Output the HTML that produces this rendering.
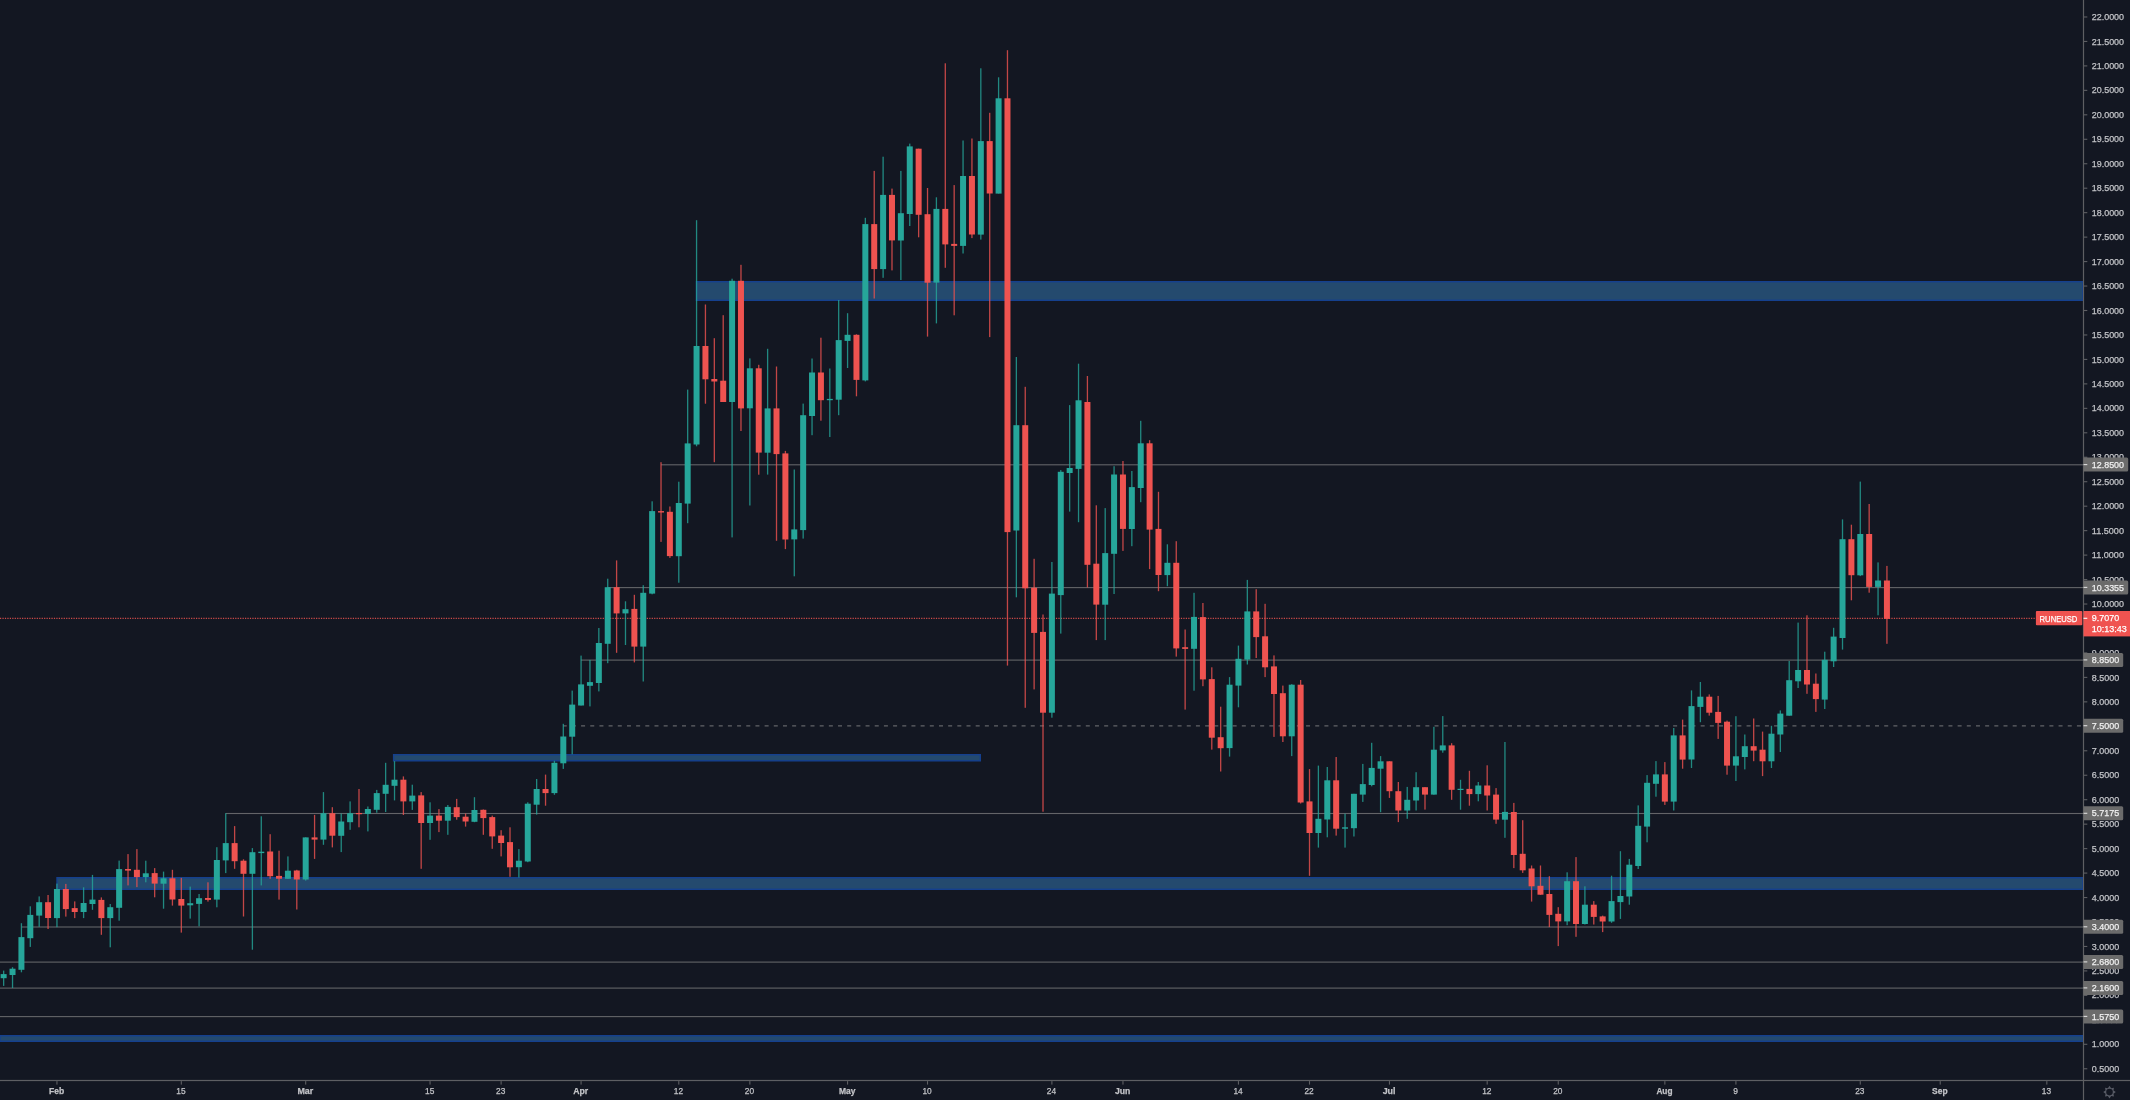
<!DOCTYPE html><html><head><meta charset="utf-8"><style>html,body{margin:0;padding:0;background:#131722;overflow:hidden}svg{display:block;will-change:transform}text{font-family:"Liberation Sans",sans-serif}</style></head><body>
<svg width="2130" height="1100" viewBox="0 0 2130 1100">
<rect x="0" y="0" width="2130" height="1100" fill="#131722"/>
<rect x="661.0" y="464.25" width="1422.5" height="1.1" fill="#636468"/>
<rect x="607.6" y="587.05" width="1475.9" height="1.1" fill="#636468"/>
<rect x="580.9" y="659.55" width="1502.6" height="1.1" fill="#636468"/>
<rect x="225.7" y="812.95" width="1857.8" height="1.1" fill="#636468"/>
<rect x="21.5" y="926.45" width="2062.0" height="1.1" fill="#636468"/>
<rect x="0.0" y="961.55" width="2083.5" height="1.1" fill="#636468"/>
<rect x="0.0" y="987.55" width="2083.5" height="1.1" fill="#636468"/>
<rect x="0.0" y="1016.05" width="2083.5" height="1.1" fill="#636468"/>
<line x1="563.2" y1="725.9" x2="2083.5" y2="725.9" stroke="#636468" stroke-width="1.1" stroke-dasharray="4 5.177" stroke-dashoffset="0.48"/>
<rect x="696.5" y="281.7" width="1386.3" height="18.6" fill="#244a6e" stroke="#15408e" stroke-width="1.4"/>
<rect x="393.6" y="754.7" width="586.7" height="6.1" fill="#244a6e" stroke="#15408e" stroke-width="1.4"/>
<rect x="57.0" y="877.7" width="2025.8" height="11.6" fill="#244a6e" stroke="#15408e" stroke-width="1.4"/>
<rect x="0.0" y="1035.7" width="2082.8" height="5.6" fill="#244a6e" stroke="#15408e" stroke-width="1.4"/>
<line x1="0" y1="618.3" x2="2036" y2="618.3" stroke="#ef5350" stroke-opacity="0.85" stroke-width="1.2" stroke-dasharray="1.2 1.25"/>
<rect x="3.00" y="970.6" width="1.3" height="15.3" fill="#26a69a" fill-opacity="0.8"/>
<rect x="0.65" y="974.1" width="6" height="4.1" fill="#26a69a"/>
<rect x="11.88" y="967.2" width="1.3" height="20.8" fill="#26a69a" fill-opacity="0.8"/>
<rect x="9.53" y="968.7" width="6" height="6.3" fill="#26a69a"/>
<rect x="20.77" y="923.2" width="1.3" height="49.1" fill="#26a69a" fill-opacity="0.8"/>
<rect x="18.42" y="937.1" width="6" height="32.7" fill="#26a69a"/>
<rect x="29.65" y="906.3" width="1.3" height="40.6" fill="#26a69a" fill-opacity="0.8"/>
<rect x="27.30" y="914.9" width="6" height="23.3" fill="#26a69a"/>
<rect x="38.53" y="896.4" width="1.3" height="30.4" fill="#26a69a" fill-opacity="0.8"/>
<rect x="36.18" y="902.2" width="6" height="13.4" fill="#26a69a"/>
<rect x="47.42" y="895.0" width="1.3" height="34.0" fill="#ef5350" fill-opacity="0.8"/>
<rect x="45.07" y="902.2" width="6" height="15.8" fill="#ef5350"/>
<rect x="56.30" y="883.6" width="1.3" height="43.6" fill="#26a69a" fill-opacity="0.8"/>
<rect x="53.95" y="889.0" width="6" height="29.1" fill="#26a69a"/>
<rect x="65.18" y="883.9" width="1.3" height="32.7" fill="#ef5350" fill-opacity="0.8"/>
<rect x="62.83" y="889.0" width="6" height="20.1" fill="#ef5350"/>
<rect x="74.07" y="901.4" width="1.3" height="16.7" fill="#ef5350" fill-opacity="0.8"/>
<rect x="71.72" y="908.1" width="6" height="3.9" fill="#ef5350"/>
<rect x="82.95" y="887.3" width="1.3" height="30.8" fill="#26a69a" fill-opacity="0.8"/>
<rect x="80.60" y="903.0" width="6" height="9.0" fill="#26a69a"/>
<rect x="91.83" y="874.9" width="1.3" height="34.9" fill="#26a69a" fill-opacity="0.8"/>
<rect x="89.48" y="899.6" width="6" height="4.4" fill="#26a69a"/>
<rect x="100.72" y="897.4" width="1.3" height="37.4" fill="#ef5350" fill-opacity="0.8"/>
<rect x="98.37" y="899.9" width="6" height="18.2" fill="#ef5350"/>
<rect x="109.60" y="904.0" width="1.3" height="43.3" fill="#26a69a" fill-opacity="0.8"/>
<rect x="107.25" y="907.2" width="6" height="10.9" fill="#26a69a"/>
<rect x="118.48" y="860.6" width="1.3" height="60.1" fill="#26a69a" fill-opacity="0.8"/>
<rect x="116.13" y="869.1" width="6" height="38.7" fill="#26a69a"/>
<rect x="127.37" y="854.1" width="1.3" height="31.3" fill="#ef5350" fill-opacity="0.8"/>
<rect x="125.02" y="869.0" width="6" height="1.6" fill="#ef5350"/>
<rect x="136.25" y="849.1" width="1.3" height="38.0" fill="#ef5350" fill-opacity="0.8"/>
<rect x="133.90" y="869.8" width="6" height="7.3" fill="#ef5350"/>
<rect x="145.13" y="860.7" width="1.3" height="21.6" fill="#26a69a" fill-opacity="0.8"/>
<rect x="142.78" y="873.3" width="6" height="3.8" fill="#26a69a"/>
<rect x="154.02" y="868.1" width="1.3" height="29.2" fill="#ef5350" fill-opacity="0.8"/>
<rect x="151.67" y="873.1" width="6" height="10.5" fill="#ef5350"/>
<rect x="162.90" y="871.6" width="1.3" height="37.1" fill="#26a69a" fill-opacity="0.8"/>
<rect x="160.55" y="878.3" width="6" height="5.4" fill="#26a69a"/>
<rect x="171.78" y="869.8" width="1.3" height="35.8" fill="#ef5350" fill-opacity="0.8"/>
<rect x="169.43" y="878.3" width="6" height="21.2" fill="#ef5350"/>
<rect x="180.67" y="877.9" width="1.3" height="54.7" fill="#ef5350" fill-opacity="0.8"/>
<rect x="178.32" y="899.0" width="6" height="6.6" fill="#ef5350"/>
<rect x="189.55" y="886.6" width="1.3" height="32.0" fill="#26a69a" fill-opacity="0.8"/>
<rect x="187.20" y="903.2" width="6" height="2.1" fill="#26a69a"/>
<rect x="198.43" y="894.0" width="1.3" height="32.3" fill="#26a69a" fill-opacity="0.8"/>
<rect x="196.08" y="898.2" width="6" height="5.7" fill="#26a69a"/>
<rect x="207.32" y="882.3" width="1.3" height="19.3" fill="#ef5350" fill-opacity="0.8"/>
<rect x="204.97" y="898.0" width="6" height="1.9" fill="#ef5350"/>
<rect x="216.20" y="847.2" width="1.3" height="60.1" fill="#26a69a" fill-opacity="0.8"/>
<rect x="213.85" y="860.0" width="6" height="39.6" fill="#26a69a"/>
<rect x="225.09" y="813.2" width="1.3" height="59.9" fill="#26a69a" fill-opacity="0.8"/>
<rect x="222.74" y="843.1" width="6" height="17.3" fill="#26a69a"/>
<rect x="233.97" y="826.1" width="1.3" height="42.7" fill="#ef5350" fill-opacity="0.8"/>
<rect x="231.62" y="843.1" width="6" height="18.1" fill="#ef5350"/>
<rect x="242.85" y="859.3" width="1.3" height="57.2" fill="#ef5350" fill-opacity="0.8"/>
<rect x="240.50" y="860.7" width="6" height="13.1" fill="#ef5350"/>
<rect x="251.74" y="848.1" width="1.3" height="101.6" fill="#26a69a" fill-opacity="0.8"/>
<rect x="249.39" y="852.2" width="6" height="21.6" fill="#26a69a"/>
<rect x="260.62" y="816.3" width="1.3" height="69.1" fill="#26a69a" fill-opacity="0.8"/>
<rect x="258.27" y="851.7" width="6" height="1.4" fill="#26a69a"/>
<rect x="269.50" y="834.2" width="1.3" height="44.6" fill="#ef5350" fill-opacity="0.8"/>
<rect x="267.15" y="851.5" width="6" height="24.7" fill="#ef5350"/>
<rect x="278.39" y="850.7" width="1.3" height="48.9" fill="#ef5350" fill-opacity="0.8"/>
<rect x="276.04" y="875.9" width="6" height="2.8" fill="#ef5350"/>
<rect x="287.27" y="856.4" width="1.3" height="22.5" fill="#26a69a" fill-opacity="0.8"/>
<rect x="284.92" y="870.7" width="6" height="8.1" fill="#26a69a"/>
<rect x="296.15" y="869.8" width="1.3" height="39.7" fill="#ef5350" fill-opacity="0.8"/>
<rect x="293.80" y="870.5" width="6" height="9.0" fill="#ef5350"/>
<rect x="305.04" y="837.4" width="1.3" height="43.2" fill="#26a69a" fill-opacity="0.8"/>
<rect x="302.69" y="837.4" width="6" height="42.1" fill="#26a69a"/>
<rect x="313.92" y="814.9" width="1.3" height="44.0" fill="#ef5350" fill-opacity="0.8"/>
<rect x="311.57" y="837.4" width="6" height="2.2" fill="#ef5350"/>
<rect x="322.80" y="792.1" width="1.3" height="52.7" fill="#26a69a" fill-opacity="0.8"/>
<rect x="320.45" y="813.2" width="6" height="26.4" fill="#26a69a"/>
<rect x="331.69" y="807.2" width="1.3" height="40.2" fill="#ef5350" fill-opacity="0.8"/>
<rect x="329.34" y="813.2" width="6" height="22.5" fill="#ef5350"/>
<rect x="340.57" y="813.5" width="1.3" height="38.6" fill="#26a69a" fill-opacity="0.8"/>
<rect x="338.22" y="821.5" width="6" height="14.3" fill="#26a69a"/>
<rect x="349.45" y="801.4" width="1.3" height="28.4" fill="#26a69a" fill-opacity="0.8"/>
<rect x="347.10" y="813.2" width="6" height="9.0" fill="#26a69a"/>
<rect x="358.34" y="789.0" width="1.3" height="38.3" fill="#ef5350" fill-opacity="0.8"/>
<rect x="355.99" y="813.0" width="6" height="1.2" fill="#ef5350"/>
<rect x="367.22" y="806.5" width="1.3" height="24.9" fill="#26a69a" fill-opacity="0.8"/>
<rect x="364.87" y="809.0" width="6" height="4.9" fill="#26a69a"/>
<rect x="376.10" y="789.9" width="1.3" height="22.8" fill="#26a69a" fill-opacity="0.8"/>
<rect x="373.75" y="793.1" width="6" height="16.7" fill="#26a69a"/>
<rect x="384.99" y="762.8" width="1.3" height="49.2" fill="#26a69a" fill-opacity="0.8"/>
<rect x="382.64" y="784.8" width="6" height="9.0" fill="#26a69a"/>
<rect x="393.87" y="761.1" width="1.3" height="39.3" fill="#26a69a" fill-opacity="0.8"/>
<rect x="391.52" y="779.7" width="6" height="6.1" fill="#26a69a"/>
<rect x="402.75" y="776.4" width="1.3" height="38.6" fill="#ef5350" fill-opacity="0.8"/>
<rect x="400.40" y="779.7" width="6" height="21.7" fill="#ef5350"/>
<rect x="411.64" y="784.7" width="1.3" height="25.2" fill="#26a69a" fill-opacity="0.8"/>
<rect x="409.29" y="795.6" width="6" height="5.8" fill="#26a69a"/>
<rect x="420.52" y="792.1" width="1.3" height="76.7" fill="#ef5350" fill-opacity="0.8"/>
<rect x="418.17" y="795.4" width="6" height="27.6" fill="#ef5350"/>
<rect x="429.40" y="802.3" width="1.3" height="37.5" fill="#26a69a" fill-opacity="0.8"/>
<rect x="427.05" y="815.6" width="6" height="7.4" fill="#26a69a"/>
<rect x="438.29" y="809.1" width="1.3" height="23.0" fill="#ef5350" fill-opacity="0.8"/>
<rect x="435.94" y="815.6" width="6" height="5.1" fill="#ef5350"/>
<rect x="447.17" y="805.0" width="1.3" height="29.8" fill="#26a69a" fill-opacity="0.8"/>
<rect x="444.82" y="806.9" width="6" height="13.8" fill="#26a69a"/>
<rect x="456.05" y="798.9" width="1.3" height="20.8" fill="#ef5350" fill-opacity="0.8"/>
<rect x="453.70" y="807.2" width="6" height="9.9" fill="#ef5350"/>
<rect x="464.94" y="813.5" width="1.3" height="13.1" fill="#ef5350" fill-opacity="0.8"/>
<rect x="462.59" y="816.7" width="6" height="4.8" fill="#ef5350"/>
<rect x="473.82" y="797.2" width="1.3" height="25.0" fill="#26a69a" fill-opacity="0.8"/>
<rect x="471.47" y="810.0" width="6" height="11.8" fill="#26a69a"/>
<rect x="482.70" y="809.5" width="1.3" height="25.3" fill="#ef5350" fill-opacity="0.8"/>
<rect x="480.35" y="809.8" width="6" height="8.3" fill="#ef5350"/>
<rect x="491.59" y="815.6" width="1.3" height="33.2" fill="#ef5350" fill-opacity="0.8"/>
<rect x="489.24" y="817.1" width="6" height="19.3" fill="#ef5350"/>
<rect x="500.47" y="830.2" width="1.3" height="26.2" fill="#ef5350" fill-opacity="0.8"/>
<rect x="498.12" y="835.6" width="6" height="7.4" fill="#ef5350"/>
<rect x="509.35" y="827.3" width="1.3" height="49.5" fill="#ef5350" fill-opacity="0.8"/>
<rect x="507.00" y="842.1" width="6" height="25.2" fill="#ef5350"/>
<rect x="518.24" y="849.1" width="1.3" height="28.4" fill="#26a69a" fill-opacity="0.8"/>
<rect x="515.89" y="860.7" width="6" height="6.5" fill="#26a69a"/>
<rect x="527.12" y="802.3" width="1.3" height="59.9" fill="#26a69a" fill-opacity="0.8"/>
<rect x="524.77" y="803.7" width="6" height="57.8" fill="#26a69a"/>
<rect x="536.00" y="779.0" width="1.3" height="35.6" fill="#26a69a" fill-opacity="0.8"/>
<rect x="533.65" y="789.0" width="6" height="15.7" fill="#26a69a"/>
<rect x="544.89" y="774.6" width="1.3" height="31.1" fill="#ef5350" fill-opacity="0.8"/>
<rect x="542.54" y="789.0" width="6" height="4.1" fill="#ef5350"/>
<rect x="553.77" y="760.8" width="1.3" height="34.0" fill="#26a69a" fill-opacity="0.8"/>
<rect x="551.42" y="762.8" width="6" height="30.3" fill="#26a69a"/>
<rect x="562.65" y="723.8" width="1.3" height="45.1" fill="#26a69a" fill-opacity="0.8"/>
<rect x="560.30" y="736.5" width="6" height="26.8" fill="#26a69a"/>
<rect x="571.54" y="690.6" width="1.3" height="63.7" fill="#26a69a" fill-opacity="0.8"/>
<rect x="569.19" y="704.6" width="6" height="32.1" fill="#26a69a"/>
<rect x="580.42" y="655.6" width="1.3" height="49.9" fill="#26a69a" fill-opacity="0.8"/>
<rect x="578.07" y="684.4" width="6" height="21.1" fill="#26a69a"/>
<rect x="589.30" y="659.9" width="1.3" height="46.5" fill="#26a69a" fill-opacity="0.8"/>
<rect x="586.95" y="682.1" width="6" height="3.7" fill="#26a69a"/>
<rect x="598.19" y="628.0" width="1.3" height="63.4" fill="#26a69a" fill-opacity="0.8"/>
<rect x="595.84" y="643.0" width="6" height="40.0" fill="#26a69a"/>
<rect x="607.07" y="578.7" width="1.3" height="84.5" fill="#26a69a" fill-opacity="0.8"/>
<rect x="604.72" y="587.2" width="6" height="56.6" fill="#26a69a"/>
<rect x="615.95" y="560.4" width="1.3" height="92.4" fill="#ef5350" fill-opacity="0.8"/>
<rect x="613.60" y="587.2" width="6" height="26.2" fill="#ef5350"/>
<rect x="624.84" y="601.3" width="1.3" height="43.7" fill="#26a69a" fill-opacity="0.8"/>
<rect x="622.49" y="609.2" width="6" height="4.2" fill="#26a69a"/>
<rect x="633.72" y="594.8" width="1.3" height="67.6" fill="#ef5350" fill-opacity="0.8"/>
<rect x="631.37" y="608.9" width="6" height="37.7" fill="#ef5350"/>
<rect x="642.60" y="585.2" width="1.3" height="96.3" fill="#26a69a" fill-opacity="0.8"/>
<rect x="640.25" y="592.8" width="6" height="53.8" fill="#26a69a"/>
<rect x="651.49" y="501.3" width="1.3" height="93.0" fill="#26a69a" fill-opacity="0.8"/>
<rect x="649.14" y="511.1" width="6" height="82.5" fill="#26a69a"/>
<rect x="660.37" y="462.2" width="1.3" height="79.7" fill="#ef5350" fill-opacity="0.8"/>
<rect x="658.02" y="511.1" width="6" height="1.4" fill="#ef5350"/>
<rect x="669.25" y="506.5" width="1.3" height="51.4" fill="#ef5350" fill-opacity="0.8"/>
<rect x="666.90" y="511.8" width="6" height="44.3" fill="#ef5350"/>
<rect x="678.14" y="481.7" width="1.3" height="101.0" fill="#26a69a" fill-opacity="0.8"/>
<rect x="675.79" y="503.0" width="6" height="53.2" fill="#26a69a"/>
<rect x="687.02" y="389.6" width="1.3" height="133.6" fill="#26a69a" fill-opacity="0.8"/>
<rect x="684.67" y="443.4" width="6" height="60.2" fill="#26a69a"/>
<rect x="695.91" y="220.2" width="1.3" height="226.1" fill="#26a69a" fill-opacity="0.8"/>
<rect x="693.56" y="346.0" width="6" height="98.5" fill="#26a69a"/>
<rect x="704.79" y="304.5" width="1.3" height="99.2" fill="#ef5350" fill-opacity="0.8"/>
<rect x="702.44" y="346.0" width="6" height="33.3" fill="#ef5350"/>
<rect x="713.67" y="338.2" width="1.3" height="124.0" fill="#ef5350" fill-opacity="0.8"/>
<rect x="711.32" y="379.0" width="6" height="2.5" fill="#ef5350"/>
<rect x="722.56" y="315.2" width="1.3" height="86.8" fill="#ef5350" fill-opacity="0.8"/>
<rect x="720.21" y="380.7" width="6" height="21.3" fill="#ef5350"/>
<rect x="731.44" y="278.7" width="1.3" height="258.7" fill="#26a69a" fill-opacity="0.8"/>
<rect x="729.09" y="280.8" width="6" height="121.2" fill="#26a69a"/>
<rect x="740.32" y="264.8" width="1.3" height="166.2" fill="#ef5350" fill-opacity="0.8"/>
<rect x="737.97" y="280.8" width="6" height="127.6" fill="#ef5350"/>
<rect x="749.21" y="358.4" width="1.3" height="147.1" fill="#26a69a" fill-opacity="0.8"/>
<rect x="746.86" y="368.3" width="6" height="40.0" fill="#26a69a"/>
<rect x="758.09" y="364.8" width="1.3" height="109.9" fill="#ef5350" fill-opacity="0.8"/>
<rect x="755.74" y="368.3" width="6" height="84.3" fill="#ef5350"/>
<rect x="766.97" y="348.8" width="1.3" height="125.8" fill="#26a69a" fill-opacity="0.8"/>
<rect x="764.62" y="408.4" width="6" height="44.3" fill="#26a69a"/>
<rect x="775.86" y="366.5" width="1.3" height="174.3" fill="#ef5350" fill-opacity="0.8"/>
<rect x="773.51" y="408.4" width="6" height="45.7" fill="#ef5350"/>
<rect x="784.74" y="450.9" width="1.3" height="98.2" fill="#ef5350" fill-opacity="0.8"/>
<rect x="782.39" y="453.4" width="6" height="86.1" fill="#ef5350"/>
<rect x="793.62" y="469.5" width="1.3" height="106.8" fill="#26a69a" fill-opacity="0.8"/>
<rect x="791.27" y="529.4" width="6" height="10.0" fill="#26a69a"/>
<rect x="802.51" y="403.6" width="1.3" height="135.0" fill="#26a69a" fill-opacity="0.8"/>
<rect x="800.16" y="415.2" width="6" height="114.9" fill="#26a69a"/>
<rect x="811.39" y="358.5" width="1.3" height="76.7" fill="#26a69a" fill-opacity="0.8"/>
<rect x="809.04" y="372.5" width="6" height="43.5" fill="#26a69a"/>
<rect x="820.27" y="337.7" width="1.3" height="83.0" fill="#ef5350" fill-opacity="0.8"/>
<rect x="817.92" y="372.5" width="6" height="27.7" fill="#ef5350"/>
<rect x="829.16" y="368.5" width="1.3" height="68.5" fill="#26a69a" fill-opacity="0.8"/>
<rect x="826.81" y="398.9" width="6" height="1.3" fill="#26a69a"/>
<rect x="838.04" y="300.0" width="1.3" height="115.2" fill="#26a69a" fill-opacity="0.8"/>
<rect x="835.69" y="340.1" width="6" height="59.6" fill="#26a69a"/>
<rect x="846.92" y="313.2" width="1.3" height="54.8" fill="#26a69a" fill-opacity="0.8"/>
<rect x="844.57" y="334.8" width="6" height="6.1" fill="#26a69a"/>
<rect x="855.81" y="334.3" width="1.3" height="62.0" fill="#ef5350" fill-opacity="0.8"/>
<rect x="853.46" y="334.8" width="6" height="45.1" fill="#ef5350"/>
<rect x="864.69" y="217.8" width="1.3" height="163.6" fill="#26a69a" fill-opacity="0.8"/>
<rect x="862.34" y="224.1" width="6" height="156.3" fill="#26a69a"/>
<rect x="873.57" y="170.9" width="1.3" height="127.6" fill="#ef5350" fill-opacity="0.8"/>
<rect x="871.22" y="224.1" width="6" height="45.0" fill="#ef5350"/>
<rect x="882.46" y="156.7" width="1.3" height="121.1" fill="#26a69a" fill-opacity="0.8"/>
<rect x="880.11" y="194.9" width="6" height="74.2" fill="#26a69a"/>
<rect x="891.34" y="188.6" width="1.3" height="81.8" fill="#ef5350" fill-opacity="0.8"/>
<rect x="888.99" y="194.9" width="6" height="45.5" fill="#ef5350"/>
<rect x="900.22" y="170.9" width="1.3" height="109.1" fill="#26a69a" fill-opacity="0.8"/>
<rect x="897.87" y="213.2" width="6" height="27.3" fill="#26a69a"/>
<rect x="909.11" y="143.6" width="1.3" height="82.4" fill="#26a69a" fill-opacity="0.8"/>
<rect x="906.76" y="146.4" width="6" height="67.6" fill="#26a69a"/>
<rect x="917.99" y="148.7" width="1.3" height="88.6" fill="#ef5350" fill-opacity="0.8"/>
<rect x="915.64" y="148.7" width="6" height="66.1" fill="#ef5350"/>
<rect x="926.87" y="188.0" width="1.3" height="148.6" fill="#ef5350" fill-opacity="0.8"/>
<rect x="924.52" y="214.2" width="6" height="68.5" fill="#ef5350"/>
<rect x="935.76" y="197.3" width="1.3" height="126.1" fill="#26a69a" fill-opacity="0.8"/>
<rect x="933.41" y="208.9" width="6" height="73.7" fill="#26a69a"/>
<rect x="944.64" y="63.3" width="1.3" height="204.5" fill="#ef5350" fill-opacity="0.8"/>
<rect x="942.29" y="208.9" width="6" height="35.5" fill="#ef5350"/>
<rect x="953.52" y="185.1" width="1.3" height="130.2" fill="#ef5350" fill-opacity="0.8"/>
<rect x="951.17" y="243.9" width="6" height="2.0" fill="#ef5350"/>
<rect x="962.41" y="140.5" width="1.3" height="113.0" fill="#26a69a" fill-opacity="0.8"/>
<rect x="960.06" y="176.0" width="6" height="69.9" fill="#26a69a"/>
<rect x="971.29" y="138.5" width="1.3" height="99.6" fill="#ef5350" fill-opacity="0.8"/>
<rect x="968.94" y="176.0" width="6" height="58.5" fill="#ef5350"/>
<rect x="980.17" y="68.3" width="1.3" height="171.3" fill="#26a69a" fill-opacity="0.8"/>
<rect x="977.82" y="141.1" width="6" height="93.5" fill="#26a69a"/>
<rect x="989.06" y="112.8" width="1.3" height="224.3" fill="#ef5350" fill-opacity="0.8"/>
<rect x="986.71" y="141.1" width="6" height="52.4" fill="#ef5350"/>
<rect x="997.94" y="77.3" width="1.3" height="116.2" fill="#26a69a" fill-opacity="0.8"/>
<rect x="995.59" y="98.3" width="6" height="95.3" fill="#26a69a"/>
<rect x="1006.82" y="50.2" width="1.3" height="615.4" fill="#ef5350" fill-opacity="0.8"/>
<rect x="1004.47" y="98.3" width="6" height="433.8" fill="#ef5350"/>
<rect x="1015.71" y="357.0" width="1.3" height="240.3" fill="#26a69a" fill-opacity="0.8"/>
<rect x="1013.36" y="425.2" width="6" height="105.3" fill="#26a69a"/>
<rect x="1024.59" y="386.8" width="1.3" height="321.0" fill="#ef5350" fill-opacity="0.8"/>
<rect x="1022.24" y="425.2" width="6" height="163.1" fill="#ef5350"/>
<rect x="1033.47" y="558.8" width="1.3" height="130.6" fill="#ef5350" fill-opacity="0.8"/>
<rect x="1031.12" y="587.7" width="6" height="45.2" fill="#ef5350"/>
<rect x="1042.36" y="614.5" width="1.3" height="197.2" fill="#ef5350" fill-opacity="0.8"/>
<rect x="1040.01" y="631.9" width="6" height="80.8" fill="#ef5350"/>
<rect x="1051.24" y="562.0" width="1.3" height="155.7" fill="#26a69a" fill-opacity="0.8"/>
<rect x="1048.89" y="593.6" width="6" height="119.1" fill="#26a69a"/>
<rect x="1060.12" y="470.1" width="1.3" height="163.5" fill="#26a69a" fill-opacity="0.8"/>
<rect x="1057.77" y="471.8" width="6" height="123.3" fill="#26a69a"/>
<rect x="1069.01" y="405.1" width="1.3" height="106.5" fill="#26a69a" fill-opacity="0.8"/>
<rect x="1066.66" y="468.0" width="6" height="5.0" fill="#26a69a"/>
<rect x="1077.89" y="363.7" width="1.3" height="158.5" fill="#26a69a" fill-opacity="0.8"/>
<rect x="1075.54" y="400.3" width="6" height="68.6" fill="#26a69a"/>
<rect x="1086.77" y="376.0" width="1.3" height="211.5" fill="#ef5350" fill-opacity="0.8"/>
<rect x="1084.42" y="402.0" width="6" height="162.8" fill="#ef5350"/>
<rect x="1095.66" y="505.3" width="1.3" height="134.8" fill="#ef5350" fill-opacity="0.8"/>
<rect x="1093.31" y="563.7" width="6" height="40.9" fill="#ef5350"/>
<rect x="1104.54" y="508.1" width="1.3" height="132.0" fill="#26a69a" fill-opacity="0.8"/>
<rect x="1102.19" y="553.1" width="6" height="51.6" fill="#26a69a"/>
<rect x="1113.42" y="466.2" width="1.3" height="127.8" fill="#26a69a" fill-opacity="0.8"/>
<rect x="1111.08" y="474.5" width="6" height="79.3" fill="#26a69a"/>
<rect x="1122.31" y="461.0" width="1.3" height="89.9" fill="#ef5350" fill-opacity="0.8"/>
<rect x="1119.96" y="474.5" width="6" height="54.4" fill="#ef5350"/>
<rect x="1131.19" y="471.0" width="1.3" height="75.2" fill="#26a69a" fill-opacity="0.8"/>
<rect x="1128.84" y="487.1" width="6" height="41.9" fill="#26a69a"/>
<rect x="1140.08" y="420.8" width="1.3" height="81.4" fill="#26a69a" fill-opacity="0.8"/>
<rect x="1137.73" y="443.3" width="6" height="44.7" fill="#26a69a"/>
<rect x="1148.96" y="440.2" width="1.3" height="128.9" fill="#ef5350" fill-opacity="0.8"/>
<rect x="1146.61" y="443.3" width="6" height="86.3" fill="#ef5350"/>
<rect x="1157.84" y="491.8" width="1.3" height="99.4" fill="#ef5350" fill-opacity="0.8"/>
<rect x="1155.49" y="528.9" width="6" height="46.1" fill="#ef5350"/>
<rect x="1166.73" y="544.3" width="1.3" height="41.9" fill="#26a69a" fill-opacity="0.8"/>
<rect x="1164.38" y="562.8" width="6" height="12.3" fill="#26a69a"/>
<rect x="1175.61" y="541.2" width="1.3" height="115.4" fill="#ef5350" fill-opacity="0.8"/>
<rect x="1173.26" y="562.8" width="6" height="85.6" fill="#ef5350"/>
<rect x="1184.49" y="629.5" width="1.3" height="80.1" fill="#ef5350" fill-opacity="0.8"/>
<rect x="1182.14" y="647.2" width="6" height="1.7" fill="#ef5350"/>
<rect x="1193.38" y="592.8" width="1.3" height="97.9" fill="#26a69a" fill-opacity="0.8"/>
<rect x="1191.03" y="616.9" width="6" height="31.9" fill="#26a69a"/>
<rect x="1202.26" y="603.0" width="1.3" height="83.2" fill="#ef5350" fill-opacity="0.8"/>
<rect x="1199.91" y="617.1" width="6" height="62.3" fill="#ef5350"/>
<rect x="1211.14" y="667.3" width="1.3" height="82.3" fill="#ef5350" fill-opacity="0.8"/>
<rect x="1208.79" y="679.1" width="6" height="58.6" fill="#ef5350"/>
<rect x="1220.03" y="706.7" width="1.3" height="64.8" fill="#ef5350" fill-opacity="0.8"/>
<rect x="1217.68" y="737.2" width="6" height="11.0" fill="#ef5350"/>
<rect x="1228.91" y="677.1" width="1.3" height="79.5" fill="#26a69a" fill-opacity="0.8"/>
<rect x="1226.56" y="684.7" width="6" height="63.4" fill="#26a69a"/>
<rect x="1237.79" y="645.6" width="1.3" height="61.7" fill="#26a69a" fill-opacity="0.8"/>
<rect x="1235.44" y="658.8" width="6" height="26.8" fill="#26a69a"/>
<rect x="1246.68" y="579.9" width="1.3" height="84.6" fill="#26a69a" fill-opacity="0.8"/>
<rect x="1244.33" y="611.4" width="6" height="48.2" fill="#26a69a"/>
<rect x="1255.56" y="589.2" width="1.3" height="68.8" fill="#ef5350" fill-opacity="0.8"/>
<rect x="1253.21" y="611.4" width="6" height="25.7" fill="#ef5350"/>
<rect x="1264.44" y="603.8" width="1.3" height="73.3" fill="#ef5350" fill-opacity="0.8"/>
<rect x="1262.09" y="636.3" width="6" height="31.0" fill="#ef5350"/>
<rect x="1273.33" y="655.4" width="1.3" height="81.5" fill="#ef5350" fill-opacity="0.8"/>
<rect x="1270.98" y="666.4" width="6" height="27.6" fill="#ef5350"/>
<rect x="1282.21" y="685.6" width="1.3" height="56.4" fill="#ef5350" fill-opacity="0.8"/>
<rect x="1279.86" y="693.2" width="6" height="43.1" fill="#ef5350"/>
<rect x="1291.09" y="684.2" width="1.3" height="71.9" fill="#26a69a" fill-opacity="0.8"/>
<rect x="1288.74" y="684.7" width="6" height="51.6" fill="#26a69a"/>
<rect x="1299.98" y="680.0" width="1.3" height="123.5" fill="#ef5350" fill-opacity="0.8"/>
<rect x="1297.63" y="684.7" width="6" height="117.8" fill="#ef5350"/>
<rect x="1308.86" y="769.1" width="1.3" height="106.7" fill="#ef5350" fill-opacity="0.8"/>
<rect x="1306.51" y="801.4" width="6" height="31.6" fill="#ef5350"/>
<rect x="1317.74" y="765.6" width="1.3" height="82.0" fill="#26a69a" fill-opacity="0.8"/>
<rect x="1315.39" y="818.8" width="6" height="14.2" fill="#26a69a"/>
<rect x="1326.63" y="767.0" width="1.3" height="70.3" fill="#26a69a" fill-opacity="0.8"/>
<rect x="1324.28" y="780.3" width="6" height="39.2" fill="#26a69a"/>
<rect x="1335.51" y="757.0" width="1.3" height="78.6" fill="#ef5350" fill-opacity="0.8"/>
<rect x="1333.16" y="780.3" width="6" height="48.4" fill="#ef5350"/>
<rect x="1344.39" y="813.6" width="1.3" height="34.0" fill="#26a69a" fill-opacity="0.8"/>
<rect x="1342.04" y="827.3" width="6" height="1.4" fill="#26a69a"/>
<rect x="1353.28" y="793.8" width="1.3" height="42.7" fill="#26a69a" fill-opacity="0.8"/>
<rect x="1350.93" y="793.8" width="6" height="34.4" fill="#26a69a"/>
<rect x="1362.16" y="763.9" width="1.3" height="38.0" fill="#26a69a" fill-opacity="0.8"/>
<rect x="1359.81" y="784.1" width="6" height="10.5" fill="#26a69a"/>
<rect x="1371.04" y="742.8" width="1.3" height="43.5" fill="#26a69a" fill-opacity="0.8"/>
<rect x="1368.69" y="767.9" width="6" height="17.1" fill="#26a69a"/>
<rect x="1379.93" y="756.1" width="1.3" height="56.1" fill="#26a69a" fill-opacity="0.8"/>
<rect x="1377.58" y="761.3" width="6" height="7.4" fill="#26a69a"/>
<rect x="1388.81" y="761.3" width="1.3" height="36.6" fill="#ef5350" fill-opacity="0.8"/>
<rect x="1386.46" y="761.3" width="6" height="29.9" fill="#ef5350"/>
<rect x="1397.69" y="782.0" width="1.3" height="40.1" fill="#ef5350" fill-opacity="0.8"/>
<rect x="1395.34" y="791.2" width="6" height="19.3" fill="#ef5350"/>
<rect x="1406.58" y="786.9" width="1.3" height="31.9" fill="#26a69a" fill-opacity="0.8"/>
<rect x="1404.23" y="799.8" width="6" height="10.7" fill="#26a69a"/>
<rect x="1415.46" y="772.2" width="1.3" height="38.3" fill="#26a69a" fill-opacity="0.8"/>
<rect x="1413.11" y="787.2" width="6" height="13.3" fill="#26a69a"/>
<rect x="1424.34" y="787.2" width="1.3" height="22.4" fill="#ef5350" fill-opacity="0.8"/>
<rect x="1421.99" y="787.2" width="6" height="7.4" fill="#ef5350"/>
<rect x="1433.23" y="726.8" width="1.3" height="67.9" fill="#26a69a" fill-opacity="0.8"/>
<rect x="1430.88" y="749.7" width="6" height="44.9" fill="#26a69a"/>
<rect x="1442.11" y="716.1" width="1.3" height="36.6" fill="#26a69a" fill-opacity="0.8"/>
<rect x="1439.76" y="745.4" width="6" height="5.0" fill="#26a69a"/>
<rect x="1450.99" y="743.2" width="1.3" height="56.6" fill="#ef5350" fill-opacity="0.8"/>
<rect x="1448.64" y="745.4" width="6" height="44.4" fill="#ef5350"/>
<rect x="1459.88" y="779.8" width="1.3" height="29.9" fill="#26a69a" fill-opacity="0.8"/>
<rect x="1457.53" y="788.8" width="6" height="1.2" fill="#26a69a"/>
<rect x="1468.76" y="770.8" width="1.3" height="34.9" fill="#ef5350" fill-opacity="0.8"/>
<rect x="1466.41" y="788.9" width="6" height="5.2" fill="#ef5350"/>
<rect x="1477.64" y="782.0" width="1.3" height="19.3" fill="#26a69a" fill-opacity="0.8"/>
<rect x="1475.29" y="785.5" width="6" height="8.6" fill="#26a69a"/>
<rect x="1486.53" y="765.3" width="1.3" height="45.2" fill="#ef5350" fill-opacity="0.8"/>
<rect x="1484.18" y="785.5" width="6" height="10.0" fill="#ef5350"/>
<rect x="1495.41" y="788.1" width="1.3" height="35.7" fill="#ef5350" fill-opacity="0.8"/>
<rect x="1493.06" y="794.6" width="6" height="25.0" fill="#ef5350"/>
<rect x="1504.29" y="742.0" width="1.3" height="95.8" fill="#26a69a" fill-opacity="0.8"/>
<rect x="1501.94" y="811.9" width="6" height="7.8" fill="#26a69a"/>
<rect x="1513.18" y="802.9" width="1.3" height="65.2" fill="#ef5350" fill-opacity="0.8"/>
<rect x="1510.83" y="812.0" width="6" height="43.0" fill="#ef5350"/>
<rect x="1522.06" y="820.2" width="1.3" height="52.7" fill="#ef5350" fill-opacity="0.8"/>
<rect x="1519.71" y="853.8" width="6" height="16.5" fill="#ef5350"/>
<rect x="1530.94" y="865.5" width="1.3" height="36.1" fill="#ef5350" fill-opacity="0.8"/>
<rect x="1528.59" y="868.5" width="6" height="17.8" fill="#ef5350"/>
<rect x="1539.83" y="865.5" width="1.3" height="29.3" fill="#ef5350" fill-opacity="0.8"/>
<rect x="1537.48" y="885.8" width="6" height="8.9" fill="#ef5350"/>
<rect x="1548.71" y="876.2" width="1.3" height="50.9" fill="#ef5350" fill-opacity="0.8"/>
<rect x="1546.36" y="894.0" width="6" height="20.9" fill="#ef5350"/>
<rect x="1557.60" y="907.2" width="1.3" height="38.9" fill="#ef5350" fill-opacity="0.8"/>
<rect x="1555.25" y="913.8" width="6" height="7.6" fill="#ef5350"/>
<rect x="1566.48" y="872.3" width="1.3" height="52.9" fill="#26a69a" fill-opacity="0.8"/>
<rect x="1564.13" y="881.2" width="6" height="40.2" fill="#26a69a"/>
<rect x="1575.36" y="857.1" width="1.3" height="79.7" fill="#ef5350" fill-opacity="0.8"/>
<rect x="1573.01" y="881.2" width="6" height="42.8" fill="#ef5350"/>
<rect x="1584.25" y="886.3" width="1.3" height="38.2" fill="#26a69a" fill-opacity="0.8"/>
<rect x="1581.90" y="904.7" width="6" height="19.3" fill="#26a69a"/>
<rect x="1593.13" y="901.1" width="1.3" height="23.4" fill="#ef5350" fill-opacity="0.8"/>
<rect x="1590.78" y="904.7" width="6" height="12.2" fill="#ef5350"/>
<rect x="1602.01" y="915.6" width="1.3" height="16.5" fill="#ef5350" fill-opacity="0.8"/>
<rect x="1599.66" y="916.4" width="6" height="5.1" fill="#ef5350"/>
<rect x="1610.90" y="875.7" width="1.3" height="47.1" fill="#26a69a" fill-opacity="0.8"/>
<rect x="1608.55" y="901.1" width="6" height="20.4" fill="#26a69a"/>
<rect x="1619.78" y="851.2" width="1.3" height="67.7" fill="#26a69a" fill-opacity="0.8"/>
<rect x="1617.43" y="896.0" width="6" height="6.1" fill="#26a69a"/>
<rect x="1628.66" y="858.9" width="1.3" height="45.8" fill="#26a69a" fill-opacity="0.8"/>
<rect x="1626.31" y="864.7" width="6" height="31.8" fill="#26a69a"/>
<rect x="1637.55" y="805.4" width="1.3" height="63.6" fill="#26a69a" fill-opacity="0.8"/>
<rect x="1635.20" y="825.8" width="6" height="40.2" fill="#26a69a"/>
<rect x="1646.43" y="775.1" width="1.3" height="67.2" fill="#26a69a" fill-opacity="0.8"/>
<rect x="1644.08" y="782.8" width="6" height="43.8" fill="#26a69a"/>
<rect x="1655.31" y="761.1" width="1.3" height="35.6" fill="#26a69a" fill-opacity="0.8"/>
<rect x="1652.96" y="774.4" width="6" height="9.4" fill="#26a69a"/>
<rect x="1664.20" y="762.1" width="1.3" height="42.8" fill="#ef5350" fill-opacity="0.8"/>
<rect x="1661.85" y="774.4" width="6" height="27.2" fill="#ef5350"/>
<rect x="1673.08" y="728.0" width="1.3" height="82.5" fill="#26a69a" fill-opacity="0.8"/>
<rect x="1670.73" y="735.4" width="6" height="66.2" fill="#26a69a"/>
<rect x="1681.96" y="719.6" width="1.3" height="49.1" fill="#ef5350" fill-opacity="0.8"/>
<rect x="1679.61" y="735.4" width="6" height="24.2" fill="#ef5350"/>
<rect x="1690.85" y="690.4" width="1.3" height="77.6" fill="#26a69a" fill-opacity="0.8"/>
<rect x="1688.50" y="706.1" width="6" height="53.4" fill="#26a69a"/>
<rect x="1699.73" y="682.0" width="1.3" height="40.2" fill="#26a69a" fill-opacity="0.8"/>
<rect x="1697.38" y="696.7" width="6" height="10.2" fill="#26a69a"/>
<rect x="1708.61" y="694.4" width="1.3" height="21.2" fill="#ef5350" fill-opacity="0.8"/>
<rect x="1706.26" y="696.7" width="6" height="16.0" fill="#ef5350"/>
<rect x="1717.50" y="695.9" width="1.3" height="43.0" fill="#ef5350" fill-opacity="0.8"/>
<rect x="1715.15" y="711.9" width="6" height="11.0" fill="#ef5350"/>
<rect x="1726.38" y="720.6" width="1.3" height="54.1" fill="#ef5350" fill-opacity="0.8"/>
<rect x="1724.03" y="721.7" width="6" height="43.9" fill="#ef5350"/>
<rect x="1735.26" y="716.2" width="1.3" height="64.8" fill="#26a69a" fill-opacity="0.8"/>
<rect x="1732.91" y="756.3" width="6" height="9.3" fill="#26a69a"/>
<rect x="1744.15" y="734.5" width="1.3" height="34.9" fill="#26a69a" fill-opacity="0.8"/>
<rect x="1741.80" y="746.2" width="6" height="10.8" fill="#26a69a"/>
<rect x="1753.03" y="718.5" width="1.3" height="42.7" fill="#ef5350" fill-opacity="0.8"/>
<rect x="1750.68" y="746.2" width="6" height="4.4" fill="#ef5350"/>
<rect x="1761.91" y="731.6" width="1.3" height="44.5" fill="#ef5350" fill-opacity="0.8"/>
<rect x="1759.56" y="749.7" width="6" height="11.6" fill="#ef5350"/>
<rect x="1770.80" y="725.8" width="1.3" height="42.2" fill="#26a69a" fill-opacity="0.8"/>
<rect x="1768.45" y="733.7" width="6" height="27.6" fill="#26a69a"/>
<rect x="1779.68" y="710.4" width="1.3" height="41.6" fill="#26a69a" fill-opacity="0.8"/>
<rect x="1777.33" y="713.6" width="6" height="20.9" fill="#26a69a"/>
<rect x="1788.56" y="661.0" width="1.3" height="54.7" fill="#26a69a" fill-opacity="0.8"/>
<rect x="1786.21" y="680.2" width="6" height="35.5" fill="#26a69a"/>
<rect x="1797.45" y="622.6" width="1.3" height="65.4" fill="#26a69a" fill-opacity="0.8"/>
<rect x="1795.10" y="670.0" width="6" height="11.3" fill="#26a69a"/>
<rect x="1806.33" y="615.3" width="1.3" height="78.5" fill="#ef5350" fill-opacity="0.8"/>
<rect x="1803.98" y="670.0" width="6" height="14.5" fill="#ef5350"/>
<rect x="1815.21" y="673.5" width="1.3" height="38.4" fill="#ef5350" fill-opacity="0.8"/>
<rect x="1812.86" y="683.7" width="6" height="15.4" fill="#ef5350"/>
<rect x="1824.10" y="651.7" width="1.3" height="57.3" fill="#26a69a" fill-opacity="0.8"/>
<rect x="1821.75" y="659.8" width="6" height="39.8" fill="#26a69a"/>
<rect x="1832.98" y="627.8" width="1.3" height="39.2" fill="#26a69a" fill-opacity="0.8"/>
<rect x="1830.63" y="636.6" width="6" height="24.7" fill="#26a69a"/>
<rect x="1841.86" y="519.4" width="1.3" height="130.2" fill="#26a69a" fill-opacity="0.8"/>
<rect x="1839.51" y="539.2" width="6" height="98.8" fill="#26a69a"/>
<rect x="1850.75" y="524.7" width="1.3" height="75.6" fill="#ef5350" fill-opacity="0.8"/>
<rect x="1848.40" y="539.2" width="6" height="36.0" fill="#ef5350"/>
<rect x="1859.63" y="481.6" width="1.3" height="94.5" fill="#26a69a" fill-opacity="0.8"/>
<rect x="1857.28" y="534.0" width="6" height="41.3" fill="#26a69a"/>
<rect x="1868.51" y="504.0" width="1.3" height="88.7" fill="#ef5350" fill-opacity="0.8"/>
<rect x="1866.16" y="534.0" width="6" height="52.9" fill="#ef5350"/>
<rect x="1877.40" y="562.4" width="1.3" height="52.9" fill="#26a69a" fill-opacity="0.8"/>
<rect x="1875.05" y="580.5" width="6" height="6.4" fill="#26a69a"/>
<rect x="1886.28" y="565.9" width="1.3" height="77.9" fill="#ef5350" fill-opacity="0.8"/>
<rect x="1883.93" y="580.5" width="6" height="38.4" fill="#ef5350"/>
<rect x="2082.9" y="0" width="1.2" height="1100" fill="#5e5f63"/>
<rect x="0" y="1079.9" width="2130" height="1.2" fill="#5e5f63"/>
<rect x="2083.5" y="16.43" width="3.8" height="1.1" fill="#5e5f63"/>
<text x="2091.8" y="20.08" font-size="9.7" textLength="32.2" lengthAdjust="spacingAndGlyphs" fill="#c3c4c8" stroke="#c3c4c8" stroke-width="0.25">22.0000</text>
<rect x="2083.5" y="40.89" width="3.8" height="1.1" fill="#5e5f63"/>
<text x="2091.8" y="44.54" font-size="9.7" textLength="32.2" lengthAdjust="spacingAndGlyphs" fill="#c3c4c8" stroke="#c3c4c8" stroke-width="0.25">21.5000</text>
<rect x="2083.5" y="65.35" width="3.8" height="1.1" fill="#5e5f63"/>
<text x="2091.8" y="69.00" font-size="9.7" textLength="32.2" lengthAdjust="spacingAndGlyphs" fill="#c3c4c8" stroke="#c3c4c8" stroke-width="0.25">21.0000</text>
<rect x="2083.5" y="89.81" width="3.8" height="1.1" fill="#5e5f63"/>
<text x="2091.8" y="93.46" font-size="9.7" textLength="32.2" lengthAdjust="spacingAndGlyphs" fill="#c3c4c8" stroke="#c3c4c8" stroke-width="0.25">20.5000</text>
<rect x="2083.5" y="114.27" width="3.8" height="1.1" fill="#5e5f63"/>
<text x="2091.8" y="117.92" font-size="9.7" textLength="32.2" lengthAdjust="spacingAndGlyphs" fill="#c3c4c8" stroke="#c3c4c8" stroke-width="0.25">20.0000</text>
<rect x="2083.5" y="138.73" width="3.8" height="1.1" fill="#5e5f63"/>
<text x="2091.8" y="142.38" font-size="9.7" textLength="32.2" lengthAdjust="spacingAndGlyphs" fill="#c3c4c8" stroke="#c3c4c8" stroke-width="0.25">19.5000</text>
<rect x="2083.5" y="163.19" width="3.8" height="1.1" fill="#5e5f63"/>
<text x="2091.8" y="166.84" font-size="9.7" textLength="32.2" lengthAdjust="spacingAndGlyphs" fill="#c3c4c8" stroke="#c3c4c8" stroke-width="0.25">19.0000</text>
<rect x="2083.5" y="187.65" width="3.8" height="1.1" fill="#5e5f63"/>
<text x="2091.8" y="191.30" font-size="9.7" textLength="32.2" lengthAdjust="spacingAndGlyphs" fill="#c3c4c8" stroke="#c3c4c8" stroke-width="0.25">18.5000</text>
<rect x="2083.5" y="212.11" width="3.8" height="1.1" fill="#5e5f63"/>
<text x="2091.8" y="215.76" font-size="9.7" textLength="32.2" lengthAdjust="spacingAndGlyphs" fill="#c3c4c8" stroke="#c3c4c8" stroke-width="0.25">18.0000</text>
<rect x="2083.5" y="236.57" width="3.8" height="1.1" fill="#5e5f63"/>
<text x="2091.8" y="240.22" font-size="9.7" textLength="32.2" lengthAdjust="spacingAndGlyphs" fill="#c3c4c8" stroke="#c3c4c8" stroke-width="0.25">17.5000</text>
<rect x="2083.5" y="261.03" width="3.8" height="1.1" fill="#5e5f63"/>
<text x="2091.8" y="264.68" font-size="9.7" textLength="32.2" lengthAdjust="spacingAndGlyphs" fill="#c3c4c8" stroke="#c3c4c8" stroke-width="0.25">17.0000</text>
<rect x="2083.5" y="285.49" width="3.8" height="1.1" fill="#5e5f63"/>
<text x="2091.8" y="289.14" font-size="9.7" textLength="32.2" lengthAdjust="spacingAndGlyphs" fill="#c3c4c8" stroke="#c3c4c8" stroke-width="0.25">16.5000</text>
<rect x="2083.5" y="309.95" width="3.8" height="1.1" fill="#5e5f63"/>
<text x="2091.8" y="313.60" font-size="9.7" textLength="32.2" lengthAdjust="spacingAndGlyphs" fill="#c3c4c8" stroke="#c3c4c8" stroke-width="0.25">16.0000</text>
<rect x="2083.5" y="334.41" width="3.8" height="1.1" fill="#5e5f63"/>
<text x="2091.8" y="338.06" font-size="9.7" textLength="32.2" lengthAdjust="spacingAndGlyphs" fill="#c3c4c8" stroke="#c3c4c8" stroke-width="0.25">15.5000</text>
<rect x="2083.5" y="358.87" width="3.8" height="1.1" fill="#5e5f63"/>
<text x="2091.8" y="362.52" font-size="9.7" textLength="32.2" lengthAdjust="spacingAndGlyphs" fill="#c3c4c8" stroke="#c3c4c8" stroke-width="0.25">15.0000</text>
<rect x="2083.5" y="383.33" width="3.8" height="1.1" fill="#5e5f63"/>
<text x="2091.8" y="386.98" font-size="9.7" textLength="32.2" lengthAdjust="spacingAndGlyphs" fill="#c3c4c8" stroke="#c3c4c8" stroke-width="0.25">14.5000</text>
<rect x="2083.5" y="407.79" width="3.8" height="1.1" fill="#5e5f63"/>
<text x="2091.8" y="411.44" font-size="9.7" textLength="32.2" lengthAdjust="spacingAndGlyphs" fill="#c3c4c8" stroke="#c3c4c8" stroke-width="0.25">14.0000</text>
<rect x="2083.5" y="432.25" width="3.8" height="1.1" fill="#5e5f63"/>
<text x="2091.8" y="435.90" font-size="9.7" textLength="32.2" lengthAdjust="spacingAndGlyphs" fill="#c3c4c8" stroke="#c3c4c8" stroke-width="0.25">13.5000</text>
<rect x="2083.5" y="456.71" width="3.8" height="1.1" fill="#5e5f63"/>
<text x="2091.8" y="460.36" font-size="9.7" textLength="32.2" lengthAdjust="spacingAndGlyphs" fill="#c3c4c8" stroke="#c3c4c8" stroke-width="0.25">13.0000</text>
<rect x="2083.5" y="481.17" width="3.8" height="1.1" fill="#5e5f63"/>
<text x="2091.8" y="484.82" font-size="9.7" textLength="32.2" lengthAdjust="spacingAndGlyphs" fill="#c3c4c8" stroke="#c3c4c8" stroke-width="0.25">12.5000</text>
<rect x="2083.5" y="505.63" width="3.8" height="1.1" fill="#5e5f63"/>
<text x="2091.8" y="509.28" font-size="9.7" textLength="32.2" lengthAdjust="spacingAndGlyphs" fill="#c3c4c8" stroke="#c3c4c8" stroke-width="0.25">12.0000</text>
<rect x="2083.5" y="530.09" width="3.8" height="1.1" fill="#5e5f63"/>
<text x="2091.8" y="533.74" font-size="9.7" textLength="32.2" lengthAdjust="spacingAndGlyphs" fill="#c3c4c8" stroke="#c3c4c8" stroke-width="0.25">11.5000</text>
<rect x="2083.5" y="554.55" width="3.8" height="1.1" fill="#5e5f63"/>
<text x="2091.8" y="558.20" font-size="9.7" textLength="32.2" lengthAdjust="spacingAndGlyphs" fill="#c3c4c8" stroke="#c3c4c8" stroke-width="0.25">11.0000</text>
<rect x="2083.5" y="579.01" width="3.8" height="1.1" fill="#5e5f63"/>
<text x="2091.8" y="582.66" font-size="9.7" textLength="32.2" lengthAdjust="spacingAndGlyphs" fill="#c3c4c8" stroke="#c3c4c8" stroke-width="0.25">10.5000</text>
<rect x="2083.5" y="603.47" width="3.8" height="1.1" fill="#5e5f63"/>
<text x="2091.8" y="607.12" font-size="9.7" textLength="32.2" lengthAdjust="spacingAndGlyphs" fill="#c3c4c8" stroke="#c3c4c8" stroke-width="0.25">10.0000</text>
<rect x="2083.5" y="627.93" width="3.8" height="1.1" fill="#5e5f63"/>
<text x="2091.8" y="631.58" font-size="9.7" textLength="27.3" lengthAdjust="spacingAndGlyphs" fill="#c3c4c8" stroke="#c3c4c8" stroke-width="0.25">9.5000</text>
<rect x="2083.5" y="652.39" width="3.8" height="1.1" fill="#5e5f63"/>
<text x="2091.8" y="656.04" font-size="9.7" textLength="27.3" lengthAdjust="spacingAndGlyphs" fill="#c3c4c8" stroke="#c3c4c8" stroke-width="0.25">9.0000</text>
<rect x="2083.5" y="676.85" width="3.8" height="1.1" fill="#5e5f63"/>
<text x="2091.8" y="680.50" font-size="9.7" textLength="27.3" lengthAdjust="spacingAndGlyphs" fill="#c3c4c8" stroke="#c3c4c8" stroke-width="0.25">8.5000</text>
<rect x="2083.5" y="701.31" width="3.8" height="1.1" fill="#5e5f63"/>
<text x="2091.8" y="704.96" font-size="9.7" textLength="27.3" lengthAdjust="spacingAndGlyphs" fill="#c3c4c8" stroke="#c3c4c8" stroke-width="0.25">8.0000</text>
<rect x="2083.5" y="725.77" width="3.8" height="1.1" fill="#5e5f63"/>
<text x="2091.8" y="729.42" font-size="9.7" textLength="27.3" lengthAdjust="spacingAndGlyphs" fill="#c3c4c8" stroke="#c3c4c8" stroke-width="0.25">7.5000</text>
<rect x="2083.5" y="750.23" width="3.8" height="1.1" fill="#5e5f63"/>
<text x="2091.8" y="753.88" font-size="9.7" textLength="27.3" lengthAdjust="spacingAndGlyphs" fill="#c3c4c8" stroke="#c3c4c8" stroke-width="0.25">7.0000</text>
<rect x="2083.5" y="774.69" width="3.8" height="1.1" fill="#5e5f63"/>
<text x="2091.8" y="778.34" font-size="9.7" textLength="27.3" lengthAdjust="spacingAndGlyphs" fill="#c3c4c8" stroke="#c3c4c8" stroke-width="0.25">6.5000</text>
<rect x="2083.5" y="799.15" width="3.8" height="1.1" fill="#5e5f63"/>
<text x="2091.8" y="802.80" font-size="9.7" textLength="27.3" lengthAdjust="spacingAndGlyphs" fill="#c3c4c8" stroke="#c3c4c8" stroke-width="0.25">6.0000</text>
<rect x="2083.5" y="823.61" width="3.8" height="1.1" fill="#5e5f63"/>
<text x="2091.8" y="827.26" font-size="9.7" textLength="27.3" lengthAdjust="spacingAndGlyphs" fill="#c3c4c8" stroke="#c3c4c8" stroke-width="0.25">5.5000</text>
<rect x="2083.5" y="848.07" width="3.8" height="1.1" fill="#5e5f63"/>
<text x="2091.8" y="851.72" font-size="9.7" textLength="27.3" lengthAdjust="spacingAndGlyphs" fill="#c3c4c8" stroke="#c3c4c8" stroke-width="0.25">5.0000</text>
<rect x="2083.5" y="872.53" width="3.8" height="1.1" fill="#5e5f63"/>
<text x="2091.8" y="876.18" font-size="9.7" textLength="27.3" lengthAdjust="spacingAndGlyphs" fill="#c3c4c8" stroke="#c3c4c8" stroke-width="0.25">4.5000</text>
<rect x="2083.5" y="896.99" width="3.8" height="1.1" fill="#5e5f63"/>
<text x="2091.8" y="900.64" font-size="9.7" textLength="27.3" lengthAdjust="spacingAndGlyphs" fill="#c3c4c8" stroke="#c3c4c8" stroke-width="0.25">4.0000</text>
<rect x="2083.5" y="921.45" width="3.8" height="1.1" fill="#5e5f63"/>
<text x="2091.8" y="925.10" font-size="9.7" textLength="27.3" lengthAdjust="spacingAndGlyphs" fill="#c3c4c8" stroke="#c3c4c8" stroke-width="0.25">3.5000</text>
<rect x="2083.5" y="945.91" width="3.8" height="1.1" fill="#5e5f63"/>
<text x="2091.8" y="949.56" font-size="9.7" textLength="27.3" lengthAdjust="spacingAndGlyphs" fill="#c3c4c8" stroke="#c3c4c8" stroke-width="0.25">3.0000</text>
<rect x="2083.5" y="970.37" width="3.8" height="1.1" fill="#5e5f63"/>
<text x="2091.8" y="974.02" font-size="9.7" textLength="27.3" lengthAdjust="spacingAndGlyphs" fill="#c3c4c8" stroke="#c3c4c8" stroke-width="0.25">2.5000</text>
<rect x="2083.5" y="994.83" width="3.8" height="1.1" fill="#5e5f63"/>
<text x="2091.8" y="998.48" font-size="9.7" textLength="27.3" lengthAdjust="spacingAndGlyphs" fill="#c3c4c8" stroke="#c3c4c8" stroke-width="0.25">2.0000</text>
<rect x="2083.5" y="1019.29" width="3.8" height="1.1" fill="#5e5f63"/>
<text x="2091.8" y="1022.94" font-size="9.7" textLength="27.3" lengthAdjust="spacingAndGlyphs" fill="#c3c4c8" stroke="#c3c4c8" stroke-width="0.25">1.5000</text>
<rect x="2083.5" y="1043.75" width="3.8" height="1.1" fill="#5e5f63"/>
<text x="2091.8" y="1047.40" font-size="9.7" textLength="27.3" lengthAdjust="spacingAndGlyphs" fill="#c3c4c8" stroke="#c3c4c8" stroke-width="0.25">1.0000</text>
<rect x="2083.5" y="1068.21" width="3.8" height="1.1" fill="#5e5f63"/>
<text x="2091.8" y="1071.86" font-size="9.7" textLength="27.3" lengthAdjust="spacingAndGlyphs" fill="#c3c4c8" stroke="#c3c4c8" stroke-width="0.25">0.5000</text>
<path d="M2083.5 457.6 H2126.7 Q2128.2 457.6 2128.2 459.1 V470.1 Q2128.2 471.6 2126.7 471.6 H2083.5 Z" fill="#6b6b6b"/>
<rect x="2083.5" y="464.05" width="3.8" height="1.1" fill="#dddddd"/>
<text x="2091.8" y="467.70" font-size="9.7" textLength="32.2" lengthAdjust="spacingAndGlyphs" fill="#f0f0f0" stroke="#f0f0f0" stroke-width="0.25">12.8500</text>
<path d="M2083.5 580.4 H2126.7 Q2128.2 580.4 2128.2 581.9 V592.9 Q2128.2 594.4 2126.7 594.4 H2083.5 Z" fill="#6b6b6b"/>
<rect x="2083.5" y="586.85" width="3.8" height="1.1" fill="#dddddd"/>
<text x="2091.8" y="590.50" font-size="9.7" textLength="32.2" lengthAdjust="spacingAndGlyphs" fill="#f0f0f0" stroke="#f0f0f0" stroke-width="0.25">10.3355</text>
<path d="M2083.5 652.9 H2121.7 Q2123.2 652.9 2123.2 654.4 V665.4 Q2123.2 666.9 2121.7 666.9 H2083.5 Z" fill="#6b6b6b"/>
<rect x="2083.5" y="659.35" width="3.8" height="1.1" fill="#dddddd"/>
<text x="2091.8" y="663.00" font-size="9.7" textLength="27.3" lengthAdjust="spacingAndGlyphs" fill="#f0f0f0" stroke="#f0f0f0" stroke-width="0.25">8.8500</text>
<path d="M2083.5 718.7 H2121.7 Q2123.2 718.7 2123.2 720.2 V731.2 Q2123.2 732.7 2121.7 732.7 H2083.5 Z" fill="#6b6b6b"/>
<rect x="2083.5" y="725.15" width="3.8" height="1.1" fill="#dddddd"/>
<text x="2091.8" y="728.80" font-size="9.7" textLength="27.3" lengthAdjust="spacingAndGlyphs" fill="#f0f0f0" stroke="#f0f0f0" stroke-width="0.25">7.5000</text>
<path d="M2083.5 806.3 H2121.7 Q2123.2 806.3 2123.2 807.8 V818.8 Q2123.2 820.3 2121.7 820.3 H2083.5 Z" fill="#6b6b6b"/>
<rect x="2083.5" y="812.75" width="3.8" height="1.1" fill="#dddddd"/>
<text x="2091.8" y="816.40" font-size="9.7" textLength="27.3" lengthAdjust="spacingAndGlyphs" fill="#f0f0f0" stroke="#f0f0f0" stroke-width="0.25">5.7175</text>
<path d="M2083.5 919.8 H2121.7 Q2123.2 919.8 2123.2 921.3 V932.3 Q2123.2 933.8 2121.7 933.8 H2083.5 Z" fill="#6b6b6b"/>
<rect x="2083.5" y="926.25" width="3.8" height="1.1" fill="#dddddd"/>
<text x="2091.8" y="929.90" font-size="9.7" textLength="27.3" lengthAdjust="spacingAndGlyphs" fill="#f0f0f0" stroke="#f0f0f0" stroke-width="0.25">3.4000</text>
<path d="M2083.5 954.9 H2121.7 Q2123.2 954.9 2123.2 956.4 V967.4 Q2123.2 968.9 2121.7 968.9 H2083.5 Z" fill="#6b6b6b"/>
<rect x="2083.5" y="961.35" width="3.8" height="1.1" fill="#dddddd"/>
<text x="2091.8" y="965.00" font-size="9.7" textLength="27.3" lengthAdjust="spacingAndGlyphs" fill="#f0f0f0" stroke="#f0f0f0" stroke-width="0.25">2.6800</text>
<path d="M2083.5 980.9 H2121.7 Q2123.2 980.9 2123.2 982.4 V993.4 Q2123.2 994.9 2121.7 994.9 H2083.5 Z" fill="#6b6b6b"/>
<rect x="2083.5" y="987.35" width="3.8" height="1.1" fill="#dddddd"/>
<text x="2091.8" y="991.00" font-size="9.7" textLength="27.3" lengthAdjust="spacingAndGlyphs" fill="#f0f0f0" stroke="#f0f0f0" stroke-width="0.25">2.1600</text>
<path d="M2083.5 1009.4 H2121.7 Q2123.2 1009.4 2123.2 1010.9 V1021.9 Q2123.2 1023.4 2121.7 1023.4 H2083.5 Z" fill="#6b6b6b"/>
<rect x="2083.5" y="1015.85" width="3.8" height="1.1" fill="#dddddd"/>
<text x="2091.8" y="1019.50" font-size="9.7" textLength="27.3" lengthAdjust="spacingAndGlyphs" fill="#f0f0f0" stroke="#f0f0f0" stroke-width="0.25">1.5750</text>
<rect x="2035.9" y="611" width="46.4" height="14.3" rx="1" fill="#ef5350"/>
<text x="2039.6" y="621.6" font-size="9.7" textLength="37.8" lengthAdjust="spacingAndGlyphs" fill="#ffffff" stroke="#ffffff" stroke-width="0.25">RUNEUSD</text>
<rect x="2083.5" y="611" width="46.5" height="25.4" fill="#ef5350"/>
<rect x="2083.5" y="617.75" width="3.8" height="1.1" fill="#ffffff"/>
<text x="2091.8" y="621.4" font-size="9.7" textLength="27.3" lengthAdjust="spacingAndGlyphs" fill="#ffffff" stroke="#ffffff" stroke-width="0.25">9.7070</text>
<text x="2091.8" y="632.4" font-size="9.7" textLength="35" lengthAdjust="spacingAndGlyphs" fill="#ffffff" stroke="#ffffff" stroke-width="0.25">10:13:43</text>
<rect x="56.40" y="1081.1" width="1.1" height="3.5" fill="#5e5f63"/>
<text x="48.95" y="1094.3" font-size="9.4" textLength="15.2" lengthAdjust="spacingAndGlyphs" fill="#c3c4c8" stroke="#c3c4c8" stroke-width="0.25" font-weight="bold">Feb</text>
<rect x="180.77" y="1081.1" width="1.1" height="3.5" fill="#5e5f63"/>
<text x="176.27" y="1094.3" font-size="9.4" textLength="9.3" lengthAdjust="spacingAndGlyphs" fill="#c3c4c8" stroke="#c3c4c8" stroke-width="0.25">15</text>
<rect x="305.14" y="1081.1" width="1.1" height="3.5" fill="#5e5f63"/>
<text x="297.39" y="1094.3" font-size="9.4" textLength="15.8" lengthAdjust="spacingAndGlyphs" fill="#c3c4c8" stroke="#c3c4c8" stroke-width="0.25" font-weight="bold">Mar</text>
<rect x="429.50" y="1081.1" width="1.1" height="3.5" fill="#5e5f63"/>
<text x="425.00" y="1094.3" font-size="9.4" textLength="9.3" lengthAdjust="spacingAndGlyphs" fill="#c3c4c8" stroke="#c3c4c8" stroke-width="0.25">15</text>
<rect x="500.57" y="1081.1" width="1.1" height="3.5" fill="#5e5f63"/>
<text x="496.07" y="1094.3" font-size="9.4" textLength="9.3" lengthAdjust="spacingAndGlyphs" fill="#c3c4c8" stroke="#c3c4c8" stroke-width="0.25">23</text>
<rect x="580.52" y="1081.1" width="1.1" height="3.5" fill="#5e5f63"/>
<text x="573.17" y="1094.3" font-size="9.4" textLength="15.0" lengthAdjust="spacingAndGlyphs" fill="#c3c4c8" stroke="#c3c4c8" stroke-width="0.25" font-weight="bold">Apr</text>
<rect x="678.24" y="1081.1" width="1.1" height="3.5" fill="#5e5f63"/>
<text x="673.74" y="1094.3" font-size="9.4" textLength="9.3" lengthAdjust="spacingAndGlyphs" fill="#c3c4c8" stroke="#c3c4c8" stroke-width="0.25">12</text>
<rect x="749.31" y="1081.1" width="1.1" height="3.5" fill="#5e5f63"/>
<text x="744.81" y="1094.3" font-size="9.4" textLength="9.3" lengthAdjust="spacingAndGlyphs" fill="#c3c4c8" stroke="#c3c4c8" stroke-width="0.25">20</text>
<rect x="847.02" y="1081.1" width="1.1" height="3.5" fill="#5e5f63"/>
<text x="838.92" y="1094.3" font-size="9.4" textLength="16.5" lengthAdjust="spacingAndGlyphs" fill="#c3c4c8" stroke="#c3c4c8" stroke-width="0.25" font-weight="bold">May</text>
<rect x="926.97" y="1081.1" width="1.1" height="3.5" fill="#5e5f63"/>
<text x="922.47" y="1094.3" font-size="9.4" textLength="9.3" lengthAdjust="spacingAndGlyphs" fill="#c3c4c8" stroke="#c3c4c8" stroke-width="0.25">10</text>
<rect x="1051.34" y="1081.1" width="1.1" height="3.5" fill="#5e5f63"/>
<text x="1046.84" y="1094.3" font-size="9.4" textLength="9.3" lengthAdjust="spacingAndGlyphs" fill="#c3c4c8" stroke="#c3c4c8" stroke-width="0.25">24</text>
<rect x="1122.41" y="1081.1" width="1.1" height="3.5" fill="#5e5f63"/>
<text x="1114.91" y="1094.3" font-size="9.4" textLength="15.3" lengthAdjust="spacingAndGlyphs" fill="#c3c4c8" stroke="#c3c4c8" stroke-width="0.25" font-weight="bold">Jun</text>
<rect x="1237.89" y="1081.1" width="1.1" height="3.5" fill="#5e5f63"/>
<text x="1233.39" y="1094.3" font-size="9.4" textLength="9.3" lengthAdjust="spacingAndGlyphs" fill="#c3c4c8" stroke="#c3c4c8" stroke-width="0.25">14</text>
<rect x="1308.96" y="1081.1" width="1.1" height="3.5" fill="#5e5f63"/>
<text x="1304.46" y="1094.3" font-size="9.4" textLength="9.3" lengthAdjust="spacingAndGlyphs" fill="#c3c4c8" stroke="#c3c4c8" stroke-width="0.25">22</text>
<rect x="1388.91" y="1081.1" width="1.1" height="3.5" fill="#5e5f63"/>
<text x="1382.66" y="1094.3" font-size="9.4" textLength="12.8" lengthAdjust="spacingAndGlyphs" fill="#c3c4c8" stroke="#c3c4c8" stroke-width="0.25" font-weight="bold">Jul</text>
<rect x="1486.63" y="1081.1" width="1.1" height="3.5" fill="#5e5f63"/>
<text x="1482.13" y="1094.3" font-size="9.4" textLength="9.3" lengthAdjust="spacingAndGlyphs" fill="#c3c4c8" stroke="#c3c4c8" stroke-width="0.25">12</text>
<rect x="1557.70" y="1081.1" width="1.1" height="3.5" fill="#5e5f63"/>
<text x="1553.19" y="1094.3" font-size="9.4" textLength="9.3" lengthAdjust="spacingAndGlyphs" fill="#c3c4c8" stroke="#c3c4c8" stroke-width="0.25">20</text>
<rect x="1664.30" y="1081.1" width="1.1" height="3.5" fill="#5e5f63"/>
<text x="1656.40" y="1094.3" font-size="9.4" textLength="16.1" lengthAdjust="spacingAndGlyphs" fill="#c3c4c8" stroke="#c3c4c8" stroke-width="0.25" font-weight="bold">Aug</text>
<rect x="1735.36" y="1081.1" width="1.1" height="3.5" fill="#5e5f63"/>
<text x="1733.19" y="1094.3" font-size="9.4" textLength="4.7" lengthAdjust="spacingAndGlyphs" fill="#c3c4c8" stroke="#c3c4c8" stroke-width="0.25">9</text>
<rect x="1859.73" y="1081.1" width="1.1" height="3.5" fill="#5e5f63"/>
<text x="1855.23" y="1094.3" font-size="9.4" textLength="9.3" lengthAdjust="spacingAndGlyphs" fill="#c3c4c8" stroke="#c3c4c8" stroke-width="0.25">23</text>
<rect x="1939.68" y="1081.1" width="1.1" height="3.5" fill="#5e5f63"/>
<text x="1932.08" y="1094.3" font-size="9.4" textLength="15.5" lengthAdjust="spacingAndGlyphs" fill="#c3c4c8" stroke="#c3c4c8" stroke-width="0.25" font-weight="bold">Sep</text>
<rect x="2046.28" y="1081.1" width="1.1" height="3.5" fill="#5e5f63"/>
<text x="2041.78" y="1094.3" font-size="9.4" textLength="9.3" lengthAdjust="spacingAndGlyphs" fill="#c3c4c8" stroke="#c3c4c8" stroke-width="0.25">13</text>
<polygon points="2109.50,1085.80 2111.15,1088.13 2113.95,1087.65 2113.47,1090.45 2115.80,1092.10 2113.47,1093.75 2113.95,1096.55 2111.15,1096.07 2109.50,1098.40 2107.85,1096.07 2105.05,1096.55 2105.53,1093.75 2103.20,1092.10 2105.53,1090.45 2105.05,1087.65 2107.85,1088.13" fill="#585b66"/>
<circle cx="2109.5" cy="1092.1" r="3.3" fill="#131722"/>
</svg></body></html>
